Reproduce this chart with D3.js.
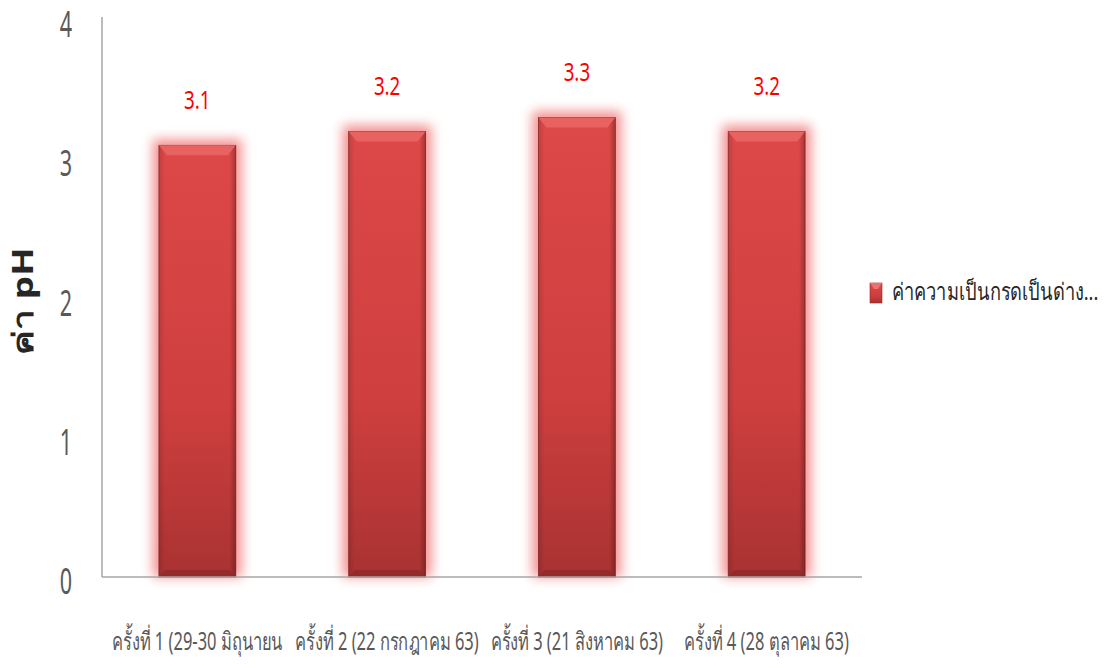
<!DOCTYPE html>
<html>
<head>
<meta charset="utf-8">
<script src="https://cdn.jsdelivr.net/npm/d3@7"></script>
<style>
  body { margin: 0; background: #fff; }
  text { font-family: "Liberation Sans Narrow", "Noto Sans", "DejaVu Sans", sans-serif; }
</style>
</head>
<body>
<svg width="1109" height="668"></svg>
<script>
const categories = ["ครั้งที่ 1 (29-30 มิถุนายน", "ครั้งที่ 2 (22 กรกฎาคม 63)", "ครั้งที่ 3 (21 สิงหาคม 63)", "ครั้งที่ 4 (28 ตุลาคม 63)"];
const values = [3.1, 3.2, 3.3, 3.2];
const valueLabels = ["3.1", "3.2", "3.3", "3.2"];
const yTicks = [0, 1, 2, 3, 4];
const seriesName = "ค่าความเป็นกรดเป็นด่าง...";
const yTitle = "ค่า pH";

const svg = d3.select("svg");
const plotLeft = 102, plotRight = 862, plotTop = 20, plotBottom = 577;

const x = d3.scaleBand().domain(categories).range([plotLeft, plotRight]).paddingInner(0.595).paddingOuter(0.3);
const y = d3.scaleLinear().domain([0, 4]).range([plotBottom, plotTop]);

const defs = svg.append("defs");
const grad = defs.append("linearGradient").attr("id", "barGrad").attr("x1", 0).attr("y1", 0).attr("x2", 0).attr("y2", 1);
grad.append("stop").attr("offset", "0%").attr("stop-color", "#dd4848");
grad.append("stop").attr("offset", "60%").attr("stop-color", "#cf3f3f");
grad.append("stop").attr("offset", "100%").attr("stop-color", "#a93232");
const side = defs.append("linearGradient").attr("id", "sideGrad").attr("x1", 0).attr("y1", 0).attr("x2", 1).attr("y2", 0);
side.append("stop").attr("offset", "0%").attr("stop-color", "#000").attr("stop-opacity", 0.12);
side.append("stop").attr("offset", "8%").attr("stop-color", "#000").attr("stop-opacity", 0);
side.append("stop").attr("offset", "92%").attr("stop-color", "#000").attr("stop-opacity", 0);
side.append("stop").attr("offset", "100%").attr("stop-color", "#000").attr("stop-opacity", 0.25);
defs.append("filter").attr("id", "glow").attr("x", "-50%").attr("y", "-50%").attr("width", "200%").attr("height", "200%")
  .append("feGaussianBlur").attr("stdDeviation", 6);

// axes
svg.append("line").attr("x1", plotLeft).attr("x2", plotLeft).attr("y1", 17).attr("y2", plotBottom)
  .attr("stroke", "#a6a6a6").attr("stroke-width", 1.5);

const g = svg.append("g");
// glow
g.selectAll("rect.glow").data(values).join("rect").attr("class", "glow")
  .attr("x", (d, i) => x(categories[i]) - 6)
  .attr("y", d => y(d) - 6)
  .attr("width", x.bandwidth() + 12)
  .attr("height", d => plotBottom - y(d) + 6)
  .attr("fill", "#f06060").attr("opacity", 0.7).attr("filter", "url(#glow)");

g.selectAll("rect.bar").data(values).join("rect").attr("class", "bar")
  .attr("x", (d, i) => x(categories[i]))
  .attr("y", d => y(d))
  .attr("width", x.bandwidth())
  .attr("height", d => plotBottom - y(d))
  .attr("fill", "url(#barGrad)").attr("stroke", "#8e2a2a").attr("stroke-width", 0.8);
g.selectAll("rect.side").data(values).join("rect").attr("class", "side")
  .attr("x", (d, i) => x(categories[i]))
  .attr("y", d => y(d))
  .attr("width", x.bandwidth())
  .attr("height", d => plotBottom - y(d))
  .attr("fill", "url(#sideGrad)");
// bevel top
g.selectAll("path.bevel").data(values).join("path").attr("class", "bevel")
  .attr("d", (d, i) => {
    const x0 = x(categories[i]), x1 = x0 + x.bandwidth(), yt = y(d);
    return `M${x0},${yt}L${x1},${yt}L${x1 - 8},${yt + 10}L${x0 + 8},${yt + 10}Z`;
  })
  .attr("fill", "#e86262");
g.selectAll("path.bevelb").data(values).join("path").attr("class", "bevelb")
  .attr("d", (d, i) => {
    const x0 = x(categories[i]), x1 = x0 + x.bandwidth();
    return `M${x0},${plotBottom}L${x1},${plotBottom}L${x1 - 6},${plotBottom - 7}L${x0 + 6},${plotBottom - 7}Z`;
  })
  .attr("fill", "#8f2929").attr("opacity", 0.8);

svg.append("line").attr("x1", plotLeft).attr("x2", plotRight).attr("y1", plotBottom).attr("y2", plotBottom)
  .attr("stroke", "#a6a6a6").attr("stroke-width", 1.5);

// value labels
g.selectAll("text.val").data(values).join("text").attr("class", "val")
  .attr("transform", (d, i) => `translate(${x(categories[i]) + x.bandwidth() / 2},${y(d) - 43}) scale(0.75,1)`)
  .attr("text-anchor", "middle").attr("dominant-baseline", "middle")
  .attr("font-size", 25).attr("fill", "#ff0000")
  .text((d, i) => valueLabels[i]);

// y ticks
svg.selectAll("text.yt").data(yTicks).join("text").attr("class", "yt")
  .attr("transform", d => `translate(72,${y(d) + 17}) scale(0.6,1)`)
  .attr("text-anchor", "end")
  .attr("font-size", 36).attr("fill", "#595959")
  .text(d => d);

// x labels
svg.selectAll("text.xl").data(categories).join("text").attr("class", "xl")
  .attr("transform", d => `translate(${x(d) + x.bandwidth() / 2},${650}) scale(0.66,1)`)
  .attr("text-anchor", "middle")
  .attr("font-size", 25).attr("fill", "#595959")
  .text(d => d);

// y title
svg.append("text")
  .attr("transform", `translate(33,301) rotate(-90) scale(1,0.78)`)
  .attr("text-anchor", "middle")
  .attr("font-size", 37).attr("font-weight", "bold").attr("fill", "#262626")
  .text(yTitle);

// legend
const lg = svg.append("g").attr("transform", "translate(870,283)");
lg.append("rect").attr("width", 12).attr("height", 20).attr("fill", "url(#barGrad)").attr("stroke", "#8e2a2a").attr("stroke-width", 0.6);
lg.append("path").attr("d", "M0,0L12,0L8,6L4,6Z").attr("fill", "#ee7070");
lg.append("text")
  .attr("transform", "translate(22,11) scale(0.76,1)")
  .attr("dominant-baseline", "middle")
  .attr("font-size", 24).attr("fill", "#262626")
  .text(seriesName);
</script>
</body>
</html>
